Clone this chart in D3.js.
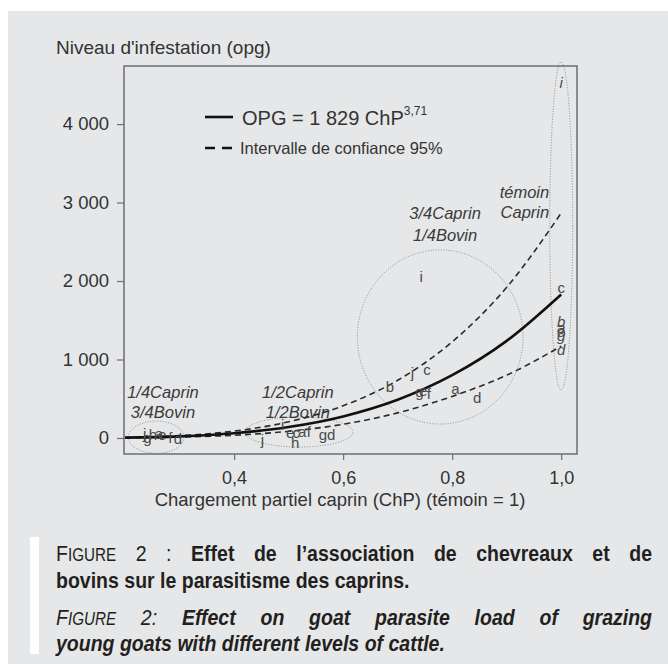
<!DOCTYPE html>
<html>
<head>
<meta charset="utf-8">
<script src="https://cdn.jsdelivr.net/npm/d3@7"></script>
<style>
  body { margin: 0; background: #ffffff; }
  svg text { font-family: "Liberation Sans", Arial, sans-serif; }
</style>
</head>
<body>
<div id="chart"></div>
<script>
// fitted curve OPG = 1829 ChP^3.71 and its 95% band
var curveX   = [0.2, 0.3, 0.4, 0.5, 0.6, 0.7, 0.8, 0.9, 1.0];
var fitY     = [5, 21, 61, 140, 275, 487, 800, 1237, 1829];
var upperY   = [6, 30, 88, 206, 411, 735, 1225, 1920, 2866];
var lowerY   = [3, 12, 35, 85, 175, 320, 530, 800, 1170];

// observed points, drawn as letters
var obsLabel = ["j","g","h","a","e","f","d",
                "j","i","e","c","a","f","h","g","d",
                "b","j","c","g","e","f","a","d","i",
                "c","b","a","e","g","d","i"];
var obsX = [0.236,0.241,0.251,0.262,0.268,0.283,0.297,
            0.452,0.489,0.503,0.514,0.525,0.537,0.512,0.563,0.578,
            0.686,0.727,0.754,0.740,0.747,0.757,0.806,0.846,0.743,
            1.0,1.0,1.0,1.0,1.0,1.0,1.0];
var obsY = [50,0,40,50,40,0,-15,
            -20,170,70,70,75,80,-60,35,40,
            650,830,870,590,600,560,625,510,2050,
            1910,1480,1400,1350,1300,1120,4530];

// groups (dotted ellipses) and their labels
var groupCx = [0.257, 0.519, 0.778, 1.0];
var groupCy = [10, 76, 1287, 2701];
var groupRx = [0.051, 0.099, 0.152, 0.021];
var groupRy = [205, 191, 1109, 2090];
var groupLine1 = ["1/4Caprin", "1/2Caprin", "3/4Caprin", "témoin"];
var groupLine2 = ["3/4Bovin", "1/2Bovin", "1/4Bovin", "Caprin"];
var groupLx = [0.2695, 0.517, 0.787, 0.978];
var groupLy1 = [586, 586, 2867, 3135];
var groupLy2 = [331, 331, 2587, 2880];

var yTicks = [0, 1000, 2000, 3000, 4000];
var xTicks = [0.4, 0.6, 0.8, 1.0];

var W = 668, H = 664;
var svg = d3.select("#chart").append("svg").attr("width", W).attr("height", H);

// grey panel
svg.append("rect").attr("x", 8).attr("y", 11).attr("width", W - 8).attr("height", H - 11)
   .attr("fill", "#e6e7e8");

var fr = d3.formatLocale({decimal: ",", thousands: "\u00a0", grouping: [3], currency: ["", "€"]});

var x = d3.scaleLinear().domain([0.198, 1.029]).range([124, 577]);
var y = d3.scaleLinear().domain([-204, 4740]).range([454, 66]);

var ink = "#333333";

// y axis
var gy = svg.append("g").attr("transform", "translate(124,0)")
   .call(d3.axisLeft(y).tickValues(yTicks).tickSize(7).tickPadding(8).tickFormat(fr.format(",d")));
gy.select(".domain").remove();
gy.selectAll("line").attr("stroke", "#6d6e71").attr("stroke-width", 1.2);
gy.selectAll("text").attr("font-size", 18.5).attr("fill", ink).attr("font-family", "Liberation Sans");

// x axis
var gx = svg.append("g").attr("transform", "translate(0,454)")
   .call(d3.axisBottom(x).tickValues(xTicks).tickSize(6).tickPadding(11).tickFormat(fr.format(".1f")));
gx.select(".domain").remove();
gx.selectAll("line").attr("stroke", "#6d6e71").attr("stroke-width", 1.2);
gx.selectAll("text").attr("font-size", 18).attr("fill", ink).attr("font-family", "Liberation Sans");

// frame
svg.append("rect").attr("x", x.range()[0]).attr("y", y.range()[1])
   .attr("width", x.range()[1] - x.range()[0]).attr("height", y.range()[0] - y.range()[1])
   .attr("fill", "none").attr("stroke", "#6d6e71").attr("stroke-width", 1.5);

// axis titles
svg.append("text").attr("x", 56).attr("y", 54).attr("font-size", 19).attr("fill", ink)
   .text("Niveau d'infestation (opg)");
svg.append("text").attr("x", 340).attr("y", 506).attr("text-anchor", "middle")
   .attr("font-size", 18.5).attr("fill", ink)
   .text("Chargement partiel caprin (ChP) (témoin = 1)");

// group ellipses
svg.selectAll(".grp").data(groupCx).enter().append("ellipse")
   .attr("cx", function(d) { return x(d); })
   .attr("cy", function(d, i) { return y(groupCy[i]); })
   .attr("rx", function(d, i) { return x(d + groupRx[i]) - x(d); })
   .attr("ry", function(d, i) { return y(groupCy[i]) - y(groupCy[i] + groupRy[i]); })
   .attr("fill", "none").attr("stroke", "#8a8b8d").attr("stroke-width", 1)
   .attr("stroke-dasharray", "1,1.6");

// group labels
groupLx.forEach(function(d, i) {
  var anchor = i == 3 ? "end" : "middle";
  [groupLine1[i], groupLine2[i]].forEach(function(t, k) {
    svg.append("text").attr("x", x(d)).attr("y", y(k == 0 ? groupLy1[i] : groupLy2[i]))
       .attr("dy", "0.35em").attr("text-anchor", anchor).attr("font-size", 16.5)
       .attr("font-style", "italic").attr("fill", "#3a3a3a").text(t);
  });
});

// lines
var line = d3.line().curve(d3.curveMonotoneX);
function pts(ys) { return curveX.map(function(v, i) { return [x(v), y(ys[i])]; }); }

svg.append("path").attr("d", line(pts(upperY))).attr("fill", "none")
   .attr("stroke", "#2a2a2a").attr("stroke-width", 1.6).attr("stroke-dasharray", "6,4");
svg.append("path").attr("d", line(pts(lowerY))).attr("fill", "none")
   .attr("stroke", "#2a2a2a").attr("stroke-width", 1.6).attr("stroke-dasharray", "6,4");
svg.append("path").attr("d", line(pts(fitY))).attr("fill", "none")
   .attr("stroke", "#111111").attr("stroke-width", 2.6);

// observation letters
svg.selectAll(".obs").data(obsLabel).enter().append("text")
   .attr("x", function(d, i) { return x(obsX[i]); })
   .attr("y", function(d, i) { return y(obsY[i]); })
   .attr("dy", "0.35em").attr("text-anchor", "middle")
   .attr("font-size", 15).attr("fill", "#4a4a4a")
   .attr("font-style", function(d, i) { return obsX[i] == 1.0 && d != "c" ? "italic" : "normal"; })
   .text(function(d) { return d; });

// legend
svg.append("line").attr("x1", 205).attr("x2", 233).attr("y1", 117).attr("y2", 117)
   .attr("stroke", "#111").attr("stroke-width", 2.6);
var lg = svg.append("text").attr("x", 242).attr("y", 125).attr("font-size", 20).attr("fill", ink);
lg.append("tspan").text("OPG = 1 829 ChP");
lg.append("tspan").attr("font-size", 12).attr("dy", -10).text("3,71");
svg.append("line").attr("x1", 205).attr("x2", 233).attr("y1", 148).attr("y2", 148)
   .attr("stroke", "#111").attr("stroke-width", 2.4).attr("stroke-dasharray", "10,7");
svg.append("text").attr("x", 240).attr("y", 154).attr("font-size", 16.5).attr("fill", ink)
   .text("Intervalle de confiance 95%");

// caption
svg.append("rect").attr("x", 30).attr("y", 537).attr("width", 9).attr("height", 117).attr("fill", "#ffffff");

var capInk = "#231f20";
var capSize = 19.5;
// each word is a list of [text, size factor, bold]; the print font is a bit condensed, so stretch lines vertically
function capLine(words, yBase, italic, justify) {
  var g = svg.append("g").attr("transform", "translate(0," + yBase + ") scale(1,1.17)");
  var nodes = words.map(function(w) {
    var t = g.append("text").attr("y", 0).attr("fill", capInk)
      .attr("font-style", italic ? "italic" : "normal");
    w.forEach(function(p) {
      t.append("tspan").attr("font-size", capSize * p[1]).attr("font-weight", p[2] ? "bold" : "normal").text(p[0]);
    });
    return t;
  });
  var widths = nodes.map(function(n) { return n.node().getComputedTextLength(); });
  var total = d3.sum(widths);
  var left = 56, right = 652;
  var gap = justify ? (right - left - total) / (nodes.length - 1) : capSize * 0.28;
  var cx = left;
  nodes.forEach(function(n, i) { n.attr("x", cx); cx += widths[i] + gap; });
}
function sc(cap, rest) { return [[cap, 1, false], [rest, 0.78, false]]; }
function b(t) { return [[t, 1, true]]; }
function r(t) { return [[t, 1, false]]; }

capLine([sc("F", "IGURE"), r("2"), r(":")].concat("Effet de l’association de chevreaux et de".split(" ").map(b)), 561, false, true);
capLine("bovins sur le parasitisme des caprins.".split(" ").map(b), 588, false, false);
capLine([sc("F", "IGURE"), r("2:")].concat("Effect on goat parasite load of grazing".split(" ").map(b)), 625, true, true);
capLine("young goats with different levels of cattle.".split(" ").map(b), 651, true, false);
</script>
</body>
</html>
